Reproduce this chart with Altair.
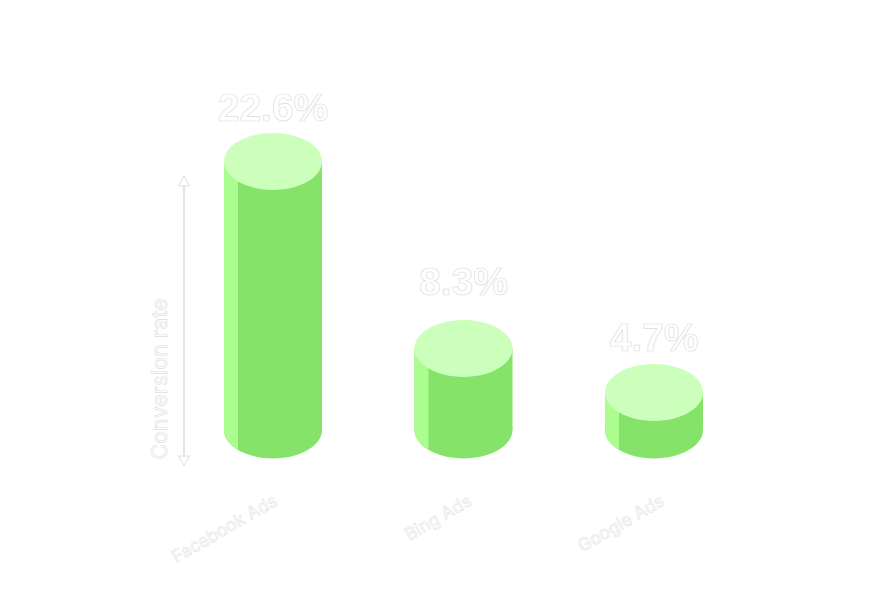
import altair as alt
import pandas as pd

categories = ["Facebook Ads", "Bing Ads", "Google Ads"]
rates = [22.6, 8.3, 4.7]
rate_labels = ["22.6%", "8.3%", "4.7%"]

df = pd.DataFrame({"channel": categories, "rate": rates, "label": rate_labels})
df["zero"] = 0

FONT = "Inter"
OUTLINE = "#dedede"
BODY = "#85e369"
STRIP = "#abfd90"
TOP = "#ccffbb"
CYL_W = 98
CAP_SIZE = CYL_W ** 2

x = alt.X("channel:N", sort=categories, axis=None,
          scale=alt.Scale(type="point", domain=categories, range=[265, 646], padding=0))
Y_SCALE = alt.Scale(domain=[0, 4.7, 8.3, 22.6], range=[422, 384.5, 340.5, 153.5])
y = alt.Y("rate:Q", axis=None, scale=Y_SCALE)
y0 = alt.Y("zero:Q", axis=None, scale=Y_SCALE)

ELLIPSE = "M-1,0 A1,0.58 0 1 0 1,0 A1,0.58 0 1 0 -1,0 Z"
SLIVER = "M-1,0 A1,0.58 0 0 0 -0.714,0.406 L-0.714,0 Z"

base = alt.Chart(df)
bottom_cap = base.mark_point(filled=True, opacity=1, shape=ELLIPSE, size=CAP_SIZE, color=BODY, strokeWidth=0).encode(x=x, y=y0)
bottom_sliver = base.mark_point(filled=True, opacity=1, shape=SLIVER, size=CAP_SIZE, color=STRIP, strokeWidth=0).encode(x=x, y=y0)
body = base.mark_bar(width=CYL_W, color=BODY).encode(x=x, y=y, y2="zero:Q")
strip = base.mark_bar(width=14, xOffset=-42, color=STRIP).encode(x=x, y=y, y2="zero:Q")
top = base.mark_point(filled=True, opacity=1, shape=ELLIPSE, size=CAP_SIZE, color=TOP, strokeWidth=0).encode(x=x, y=y)

def value_text(chan, off):
    return (base.transform_filter(alt.datum.channel == chan)
            .mark_text(font="Liberation Sans", fontSize=39, fontWeight="bold", fill="white", stroke=OUTLINE,
                       strokeWidth=0.7, align="center", baseline="alphabetic", yOffset=off)
            .encode(x=x, y=y, text="label:N"))

values = [value_text("Facebook Ads", -41), value_text("Bing Ads", -54), value_text("Google Ads", -42)]

def cat_text(chan, off):
    return (base.transform_filter(alt.datum.channel == chan)
            .mark_text(font=FONT, fontSize=17.5, fontWeight=400, fill="white", stroke=OUTLINE,
                       strokeWidth=0.5, align="right", baseline="middle", angle=330, xOffset=off)
            .encode(x=x, y=alt.value(492), text="channel:N"))

cats = [cat_text("Facebook Ads", 3), cat_text("Bing Ads", 7), cat_text("Google Ads", 9)]

axis_title = alt.Chart(pd.DataFrame({"t": ["Conversion rate"]})).mark_text(
    font=FONT, fontSize=21.5, fill="white", stroke=OUTLINE, strokeWidth=0.6, angle=270,
    align="center", baseline="middle").encode(x=alt.value(153), y=alt.value(371), text="t:N")

arrow_line = alt.Chart(pd.DataFrame({"a": [0]})).mark_rule(color="#e4e4e4", strokeWidth=2).encode(
    x=alt.value(176), y=alt.value(173), y2=alt.value(453))
arrow_up = alt.Chart(pd.DataFrame({"a": [0]})).mark_point(
    shape="triangle-up", filled=True, fill="white", stroke=OUTLINE, strokeWidth=1, size=130, opacity=1).encode(
    x=alt.value(176), y=alt.value(173))
arrow_dn = alt.Chart(pd.DataFrame({"a": [0]})).mark_point(
    shape="triangle-down", filled=True, fill="white", stroke=OUTLINE, strokeWidth=1, size=130, opacity=1).encode(
    x=alt.value(176), y=alt.value(453))

chart = alt.layer(bottom_cap, body, bottom_sliver, strip, top, *values, *cats, axis_title,
                  arrow_line, arrow_up, arrow_dn).properties(
    width=853, height=590, padding=0, autosize="none", background="white"
).configure_view(stroke=None)

chart.save("out.html", embed_options={"renderer": "svg", "actions": False})
